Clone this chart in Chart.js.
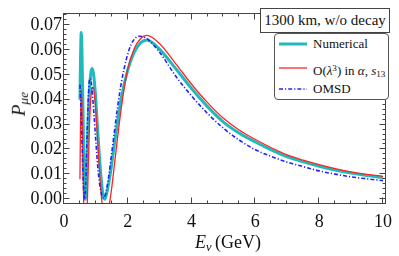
<!DOCTYPE html>
<html><head><meta charset="utf-8">
<script src="https://cdn.jsdelivr.net/npm/chart.js@4.4.0/dist/chart.umd.min.js"></script>
<style>
body{margin:0;background:#fff}
#wrap{position:relative;width:399px;height:256px;font-family:"Liberation Serif","DejaVu Serif",serif;color:#111}
#c{position:absolute;left:0;top:0}
#note{position:absolute;left:260px;top:8px;width:128px;height:23px;border:1px solid #444;font-size:15px;line-height:23px;text-align:center;background:#fff}
#leg{position:absolute;left:274px;top:33px;width:113px;height:65px;border:1px solid #555;border-radius:4px;background:#fff;font-size:13px}
.row{position:absolute;left:0;height:16px;line-height:16px;white-space:nowrap}
.row svg{position:absolute;left:3px;top:0}
.row span{position:absolute;left:38px;top:0}
#xt{position:absolute;left:178px;top:232px;width:100px;text-align:center;font-size:18px}
#yt{position:absolute;left:-30px;top:92px;width:100px;text-align:center;font-size:19px;transform:rotate(-90deg)}
sub{font-size:70%;vertical-align:-0.25em}
sup{font-size:70%;vertical-align:0.45em}
</style></head><body>
<div id="wrap">
<canvas id="c" width="399" height="256"></canvas>
<div id="note">1300 km, w/o decay</div>
<div id="leg">
 <div class="row" style="top:2px"><svg width="30" height="16"><line x1="1" y1="8" x2="29" y2="8" stroke="rgb(32,186,186)" stroke-width="3"/></svg><span>Numerical</span></div>
 <div class="row" style="top:26px"><svg width="30" height="16"><line x1="1" y1="8" x2="29" y2="8" stroke="#f22" stroke-width="1.3"/></svg><span>O(<i>λ</i><sup>3</sup>) in <i>α</i>, <i>s</i><sub>13</sub></span></div>
 <div class="row" style="top:47px"><svg width="30" height="16"><line x1="1" y1="8" x2="29" y2="8" stroke="#22f" stroke-width="1.6" stroke-dasharray="4 2 1.2 2"/></svg><span>OMSD</span></div>
</div>
<div id="xt"><i>E</i><sub><i>ν</i></sub>&thinsp;(GeV)</div>
<div id="yt"><i>P</i><sub><i>μe</i></sub></div>
</div>
<script>
// values
const numE=[0.50,0.52,0.54,0.56,0.59,0.62,0.65,0.67,0.70,0.74,0.78,0.82,0.86,0.89,0.93,0.98,1.04,1.10,1.16,1.22,1.28,1.35,1.45,1.60,1.80,2.00,2.20,2.40,2.60,3.00,3.50,4.00,4.50,5.00,5.50,6.00,6.50,7.00,7.50,8.00,8.50,9.00,9.50,10.0];
const numP=[0.040,0.058,0.067,0.061,0.040,0.018,0.004,0.000,0.008,0.025,0.039,0.048,0.052,0.0525,0.050,0.043,0.031,0.019,0.009,0.002,0.000,0.003,0.010,0.024,0.041,0.052,0.059,0.0628,0.064,0.0602,0.0525,0.0445,0.0372,0.0310,0.0265,0.0230,0.0198,0.0170,0.0150,0.0132,0.0117,0.0105,0.0095,0.0087];
const appE=[0.50,0.52,0.54,0.56,0.58,0.60,0.62,0.67,0.73,0.76,0.80,0.85,0.92,0.97,1.03,1.10,1.16,1.20,1.31,1.42,1.50,1.60,1.80,2.00,2.20,2.40,2.60,3.00,3.50,4.00,4.50,5.00,5.50,6.00,6.50,7.00,7.50,8.00,8.50,9.00,9.50,10.0];
const appP=[0.008,0.032,0.044,0.038,0.024,0.008,-0.002,-0.012,-0.002,0.012,0.030,0.042,0.045,0.040,0.029,0.014,0.003,-0.002,-0.008,-0.002,0.005,0.016,0.037,0.0525,0.0605,0.0645,0.0658,0.0625,0.0545,0.0462,0.0388,0.0325,0.0277,0.0240,0.0207,0.0178,0.0157,0.0139,0.0123,0.0110,0.0100,0.0092];
const omsdE=[0.50,0.54,0.58,0.62,0.65,0.68,0.72,0.76,0.80,0.83,0.88,0.94,1.00,1.08,1.16,1.24,1.30,1.40,1.50,1.68,1.80,1.95,2.10,2.35,2.60,3.00,3.50,4.00,4.50,5.00,5.50,6.00,6.50,7.00,7.50,8.00,8.50,9.00,9.50,10.0];
const omsdP=[0.046,0.034,0.016,0.003,0.000,0.006,0.024,0.040,0.048,0.0485,0.044,0.034,0.023,0.010,0.003,0.0005,0.002,0.009,0.019,0.037,0.047,0.056,0.062,0.0655,0.0645,0.059,0.0495,0.0415,0.0345,0.0285,0.0237,0.0199,0.0172,0.0149,0.0131,0.0114,0.0101,0.0090,0.0082,0.0075];
const xTicks=[0,2,4,6,8,10];
const yTicks=[0,0.01,0.02,0.03,0.04,0.05,0.06,0.07];

const pts=(xs,ys)=>xs.map((x,i)=>({x,y:ys[i]}));
const frame={id:'frame',afterDatasetsDraw(ch){
  const {ctx,chartArea:a,scales:{x,y}}=ch;
  ctx.save(); ctx.strokeStyle='#444'; ctx.lineWidth=1;
  const L=Math.round(a.left)-0.5,R=Math.round(a.right)-0.5,T=Math.round(a.top)+0.5,B=Math.round(a.bottom)-0.5;
  ctx.strokeRect(L,T,R-L,B-T);
  ctx.beginPath();
  for(let i=0;i<=20;i++){const p=Math.round(x.getPixelForValue(i*0.5))-0.5,l=i%4==0?6:3;
    ctx.moveTo(p,B);ctx.lineTo(p,B-l);ctx.moveTo(p,T);ctx.lineTo(p,T+l);}
  for(let i=0;i<=37;i++){const p=Math.round(y.getPixelForValue(i*0.002))-0.5,l=i%5==0?6:3;
    ctx.moveTo(L,p);ctx.lineTo(L+l,p);ctx.moveTo(R,p);ctx.lineTo(R-l,p);}
  ctx.stroke(); ctx.restore();
}};
const font={family:'"Liberation Serif", serif',size:18};
new Chart(document.getElementById('c'),{
  type:'line',
  data:{datasets:[
    {label:'OMSD',data:pts(omsdE,omsdP),borderColor:'#22f',borderWidth:1.6,borderDash:[4,2,1.2,2],order:1},
    {label:'O(λ3) in α, s13',data:pts(appE,appP),borderColor:'#f22',borderWidth:1.3,order:2},
    {label:'Numerical',data:pts(numE,numP),borderColor:'rgb(32,186,186)',borderWidth:3,order:3}
  ]},
  options:{responsive:false,animation:false,devicePixelRatio:1,
    elements:{point:{radius:0},line:{cubicInterpolationMode:'monotone',fill:false}},
    layout:{padding:{top:1,right:7,left:0,bottom:0}},
    plugins:{legend:{display:false},tooltip:{enabled:false}},
    scales:{
      x:{type:'linear',min:0,max:10.09,grid:{display:false,drawTicks:false},border:{display:false},
        afterBuildTicks:s=>{s.ticks=xTicks.map(value=>({value}));},
        afterFit:s=>{s.height=52;},
        ticks:{font,color:'#111',padding:7,maxRotation:0,callback:v=>String(v)}},
      y:{min:-0.0019,max:0.0749,grid:{display:false,drawTicks:false},border:{display:false},
        afterBuildTicks:s=>{s.ticks=yTicks.map(value=>({value}));},
        afterFit:s=>{s.width=64;},
        ticks:{font,color:'#111',padding:2,callback:v=>v.toFixed(2)}}
    }},
  plugins:[frame]
});
</script>
</body></html>
